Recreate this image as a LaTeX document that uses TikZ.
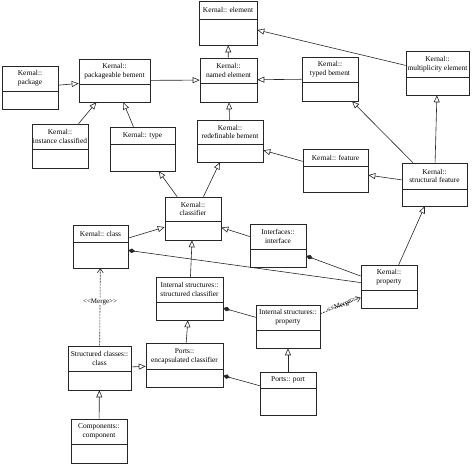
\documentclass[tikz,border=0pt]{standalone}
\usepackage{fontspec}
\setmainfont{Liberation Serif}
\usetikzlibrary{fit,arrows.meta}
\tikzset{
  umlbox/.style={draw=black!85,line width=.6pt,inner sep=0pt},
  umlline/.style={draw=black!85,line width=.6pt},
  umltext/.style={align=center,inner sep=0pt,font=\fontsize{7.4}{8.8}\selectfont},
  gen/.style={umlline,-{Triangle[open,length=7pt,width=6pt]}},
  comp/.style={umlline,{Diamond[length=7pt,width=4.5pt]}-},
  merge/.style={umlline,dashed,dash pattern=on 2pt off 1pt,-{Straight Barb[length=4pt,width=6pt]}},
  mergetext/.style={inner sep=.5pt,font=\fontsize{7}{8}\selectfont}
}
% name, x1, y1, x2, y2, divider, text
\newcommand{\umlclass}[7]{%
  \node[umlbox,fit={(#2,#3) (#4,#5)}] (#1) {};
  \draw[umlline] (#2,#6) -- (#4,#6);
  \node[umltext] (#1t) at ({(#2+#4)/2},{(#3+#6)/2}) {#7};
}
\begin{document}
\begin{tikzpicture}[x=1pt,y=-1pt]
\useasboundingbox (0,0) rectangle (474,465);
\umlclass{elem}{199}{1}{257}{45}{19}{Kernal:: element}
\umlclass{named}{200}{58}{257}{102}{83}{Kernal::\\named element}
\umlclass{pkgel}{79}{59}{150}{102}{84}{Kernal::\\packageable bement}
\umlclass{pkg}{2}{66}{58}{109}{91}{Kernal::\\package}
\umlclass{inst}{32}{124}{88}{168}{149}{Kernal::\\instance classified}
\umlclass{type}{110}{127}{175}{171}{144}{Kernal:: type}
\umlclass{redef}{197}{120}{263}{162}{144}{Kernal::\\redefinable bement}
\umlclass{typed}{302}{57}{358}{101}{82}{Kernal::\\typed bement}
\umlclass{mult}{406}{51}{469}{95}{77}{Kernal::\\multiplicity element}
\umlclass{feat}{303}{149}{368}{192}{166}{Kernal:: feature}
\umlclass{sfeat}{402}{163}{467}{206}{189}{Kernal::\\structural feature}
\umlclass{clsf}{165}{197}{221}{240}{221}{Kernal::\\classifier}
\umlclass{cls}{73}{225}{128}{268}{242}{Kernal:: class}
\umlclass{iface}{250}{224}{306}{267}{249}{Interfaces::\\interface}
\umlclass{prop}{361}{265}{417}{308}{290}{Kernal::\\property}
\umlclass{sclsf}{156}{277}{223}{320}{302}{Internal structures::\\structured classifier}
\umlclass{iprop}{256}{305}{320}{348}{330}{Internal structures::\\property}
\umlclass{scls}{68}{346}{131}{390}{371}{Structured classes::\\class}
\umlclass{encl}{146}{343}{223}{387}{369}{Ports::\\encapsulated classifier}
\umlclass{port}{260}{372}{316}{415}{388}{Ports:: port}
\umlclass{comp}{71}{419}{127}{463}{444}{Components::\\component}
% generalizations
\foreach \a/\b in {pkg/pkgel,pkgel/named,named/elem,typed/named,mult/elem,
  inst/pkgel,type/pkgel,redef/named,feat/redef,sfeat/feat,sfeat/typed,
  sfeat/mult,clsf/type,clsf/redef,cls/clsf,iface/clsf,sclsf/clsf,
  prop/sfeat,encl/sclsf,scls/encl,comp/scls,port/iprop}
  \draw[gen](\a)--(\b);
% compositions
\foreach \a/\b in {cls/prop,iface/prop,sclsf/iprop,encl/port}
  \draw[comp](\a)--(\b);
% merges
\draw[merge](scls)--node[mergetext,fill=white,pos=.57]{<\kern0pt<Merge>\kern0pt>}(cls);
\draw[merge](iprop)--node[mergetext,sloped,pos=.56]{<\kern0pt<Merge>\kern0pt>}(prop);
\end{tikzpicture}
\end{document}
